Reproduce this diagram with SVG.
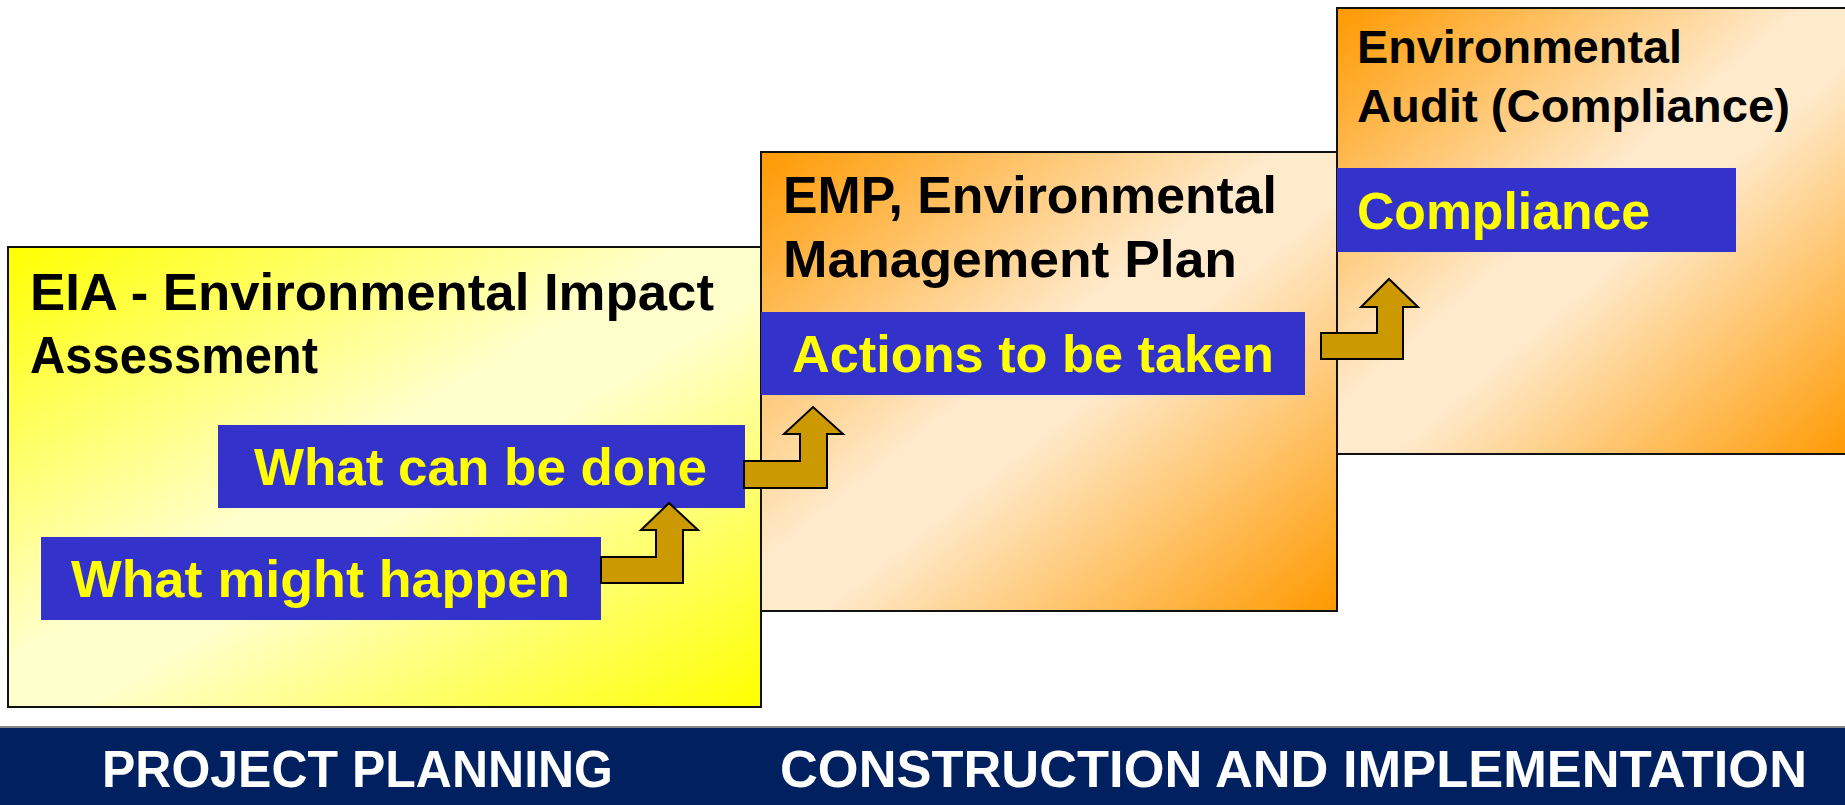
<svg xmlns="http://www.w3.org/2000/svg" width="1845" height="805" viewBox="0 0 1845 805">
  <defs>
    <linearGradient id="gYellow" x1="0" y1="0" x2="1" y2="1">
      <stop offset="0" stop-color="#FFFF00"/>
      <stop offset="0.45" stop-color="#FFFFCC"/>
      <stop offset="0.55" stop-color="#FFFFCC"/>
      <stop offset="1" stop-color="#FFFF00"/>
    </linearGradient>
    <linearGradient id="gOrange" x1="0" y1="0" x2="1" y2="1">
      <stop offset="0" stop-color="#FF9900"/>
      <stop offset="0.45" stop-color="#FFEACC"/>
      <stop offset="0.55" stop-color="#FFEACC"/>
      <stop offset="1" stop-color="#FF9900"/>
    </linearGradient>
    <style>
      .box { stroke: #111; stroke-width: 2; }
      .title { font-family: "Liberation Sans", Arial, sans-serif; font-weight: bold; fill: #000; }
      .tag { fill: #3333CC; }
      .tagtext { font-family: "Liberation Sans", Arial, sans-serif; font-weight: bold; fill: #FFFF00; font-size: 52px; }
      .arrow { fill: #CC9900; stroke: #000; stroke-width: 2; stroke-linejoin: miter; }
      .foot { font-family: "Liberation Sans", Arial, sans-serif; font-weight: bold; fill: #FFFFFF; font-size: 52px; }
    </style>
  </defs>
  <rect x="0" y="0" width="1845" height="805" fill="#FFFFFF"/>

  <g id="eia">
    <rect class="box" x="8" y="247" width="753" height="460" fill="url(#gYellow)"/>
    <text class="title" x="30" y="310" font-size="52" textLength="684" lengthAdjust="spacingAndGlyphs">EIA - Environmental Impact</text>
    <text class="title" x="30" y="373" font-size="52" textLength="288" lengthAdjust="spacingAndGlyphs">Assessment</text>
  </g>

  <g id="emp">
    <rect class="box" x="761" y="152" width="576" height="459" fill="url(#gOrange)"/>
    <text class="title" x="783" y="213" font-size="52" textLength="494" lengthAdjust="spacingAndGlyphs">EMP, Environmental</text>
    <text class="title" x="783" y="277" font-size="52" textLength="454" lengthAdjust="spacingAndGlyphs">Management Plan</text>
  </g>

  <g id="audit">
    <rect class="box" x="1337" y="8" width="520" height="446" fill="url(#gOrange)"/>
    <text class="title" x="1357" y="63" font-size="47" textLength="325" lengthAdjust="spacingAndGlyphs">Environmental</text>
    <text class="title" x="1357" y="122" font-size="47" textLength="433" lengthAdjust="spacingAndGlyphs">Audit (Compliance)</text>
  </g>

  <g id="what-can-be-done">
    <rect class="tag" x="218" y="425" width="527" height="83"/>
    <text class="tagtext" x="254" y="485" textLength="453" lengthAdjust="spacingAndGlyphs">What can be done</text>
  </g>

  <g id="what-might-happen">
    <rect class="tag" x="41" y="537" width="560" height="83"/>
    <text class="tagtext" x="71" y="597" textLength="499" lengthAdjust="spacingAndGlyphs">What might happen</text>
  </g>

  <g id="actions">
    <rect class="tag" x="761" y="312" width="544" height="83"/>
    <text class="tagtext" x="792" y="372" textLength="482" lengthAdjust="spacingAndGlyphs">Actions to be taken</text>
  </g>

  <g id="compliance">
    <rect class="tag" x="1337" y="168" width="399" height="84"/>
    <text class="tagtext" x="1357" y="229" textLength="293" lengthAdjust="spacingAndGlyphs">Compliance</text>
  </g>

  <g id="connectors">
    <path class="arrow" d="M601,557 H656 V530 H641 L669,503 L698,530 H683 V583 H601 Z"/>
    <path class="arrow" d="M744,461 H800 V434 H784 L813,407 L843,434 H827 V488 H744 Z"/>
    <path class="arrow" d="M1321,333 H1377 V307 H1361 L1389,279 L1418,307 H1403 V359 H1321 Z"/>
  </g>

  <g id="footer">
    <rect x="0" y="727" width="1845" height="78" fill="#002060"/>
    <line x1="0" y1="727" x2="1845" y2="727" stroke="#888888" stroke-width="2"/>
    <text class="foot" x="102" y="787" textLength="511" lengthAdjust="spacingAndGlyphs">PROJECT PLANNING</text>
    <text class="foot" x="780" y="787" textLength="1027" lengthAdjust="spacingAndGlyphs">CONSTRUCTION AND IMPLEMENTATION</text>
  </g>
</svg>
